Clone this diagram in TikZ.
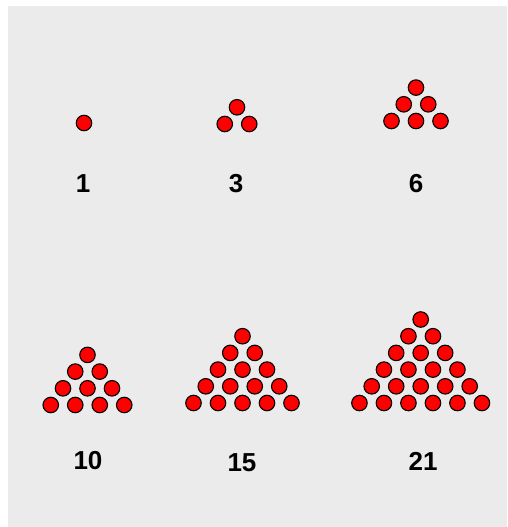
\documentclass[tikz,border=0pt]{standalone}
\usepackage{fontspec}
\setmainfont{Liberation Sans}
\definecolor{bggray}{HTML}{EBEBEB}
\tikzset{
  dot/.style={circle,fill=red,draw=black,line width=1.1pt,minimum size=15.5pt,inner sep=0pt},
  lbl/.style={font=\fontsize{26}{30}\selectfont\bfseries,inner sep=0pt}
}
\newcommand\mytri[4]{%
  \foreach \k in {1,...,#4}{%
    \foreach \j in {1,...,\k}{%
      \node[dot] (#1-\k-\j) at ({#2+(\j-(\k+1)/2)*24.5},{#3-(#4-\k)*16.7}) {};
    }%
  }%
}
\begin{document}
\begin{tikzpicture}[x=1pt,y=-1pt]
\useasboundingbox (0,0) rectangle (507,527);
\fill[bggray] (8,6) rectangle (507,527);
\mytri{ta}{84}{123}{1}
\mytri{tb}{237}{124}{2}
\mytri{tc}{416}{121}{3}
\mytri{td}{87.5}{405}{4}
\mytri{te}{242.5}{403}{5}
\mytri{tf}{420.7}{403}{6}
\node[lbl] (la) at (83,184) {1};
\node[lbl] (lb) at (236,184) {3};
\node[lbl] (lc) at (416,184) {6};
\node[lbl] (ld) at (88,461) {10};
\node[lbl] (le) at (242,463) {15};
\node[lbl] (lf) at (423,461) {21};
\end{tikzpicture}
\end{document}
